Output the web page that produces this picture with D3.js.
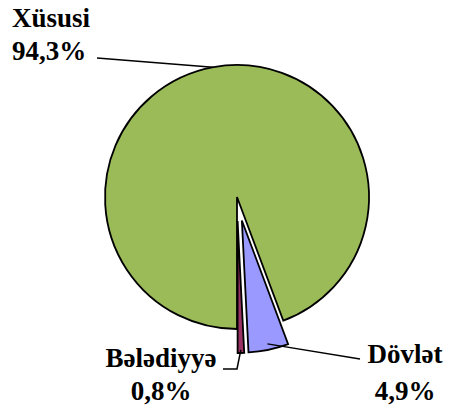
<!DOCTYPE html>
<html lang="az">
<head>
    <meta charset="utf-8" />
    <title>Pie</title>
    <script src="https://d3js.org/d3.v7.min.js"></script>
    <style>
        body { margin: 0; background: #fff; }
    </style>
</head>
<body>
    <div id="chart"></div>
    <script>
        // data
        var categories = ["Xüsusi", "Dövlət", "Bələdiyyə"];
        var values = [94.3, 4.9, 0.8];
        var valueLabels = ["94,3%", "4,9%", "0,8%"];
        var colors = ["#9bbb59", "#9999ff", "#993366"];

        var width = 452, height = 413;
        var cx = 237, cy = 197, R = 132, explode = 24;
        var fontFamily = "'Liberation Serif', 'Times New Roman', Tinos, 'DejaVu Serif', serif";

        var svg = d3.select("#chart").append("svg")
            .attr("width", width)
            .attr("height", height);

        var pie = d3.pie().sort(null).value(function (d) { return d; })
            .startAngle(Math.PI).endAngle(3 * Math.PI);
        var arcs = pie(values);
        var arc = d3.arc().innerRadius(0).outerRadius(R);

        function offset(d, i) {
            if (i === 0) return [0, 0];
            var a = (d.startAngle + d.endAngle) / 2;
            return [explode * Math.sin(a), -explode * Math.cos(a)];
        }
        function pointAt(a, r, off) {
            return [cx + off[0] + r * Math.sin(a), cy + off[1] - r * Math.cos(a)];
        }

        var g = svg.append("g");
        g.selectAll("path")
            .data(arcs)
            .enter()
            .append("path")
            .attr("transform", function (d, i) {
                var o = offset(d, i);
                return "translate(" + (cx + o[0]) + "," + (cy + o[1]) + ")";
            })
            .attr("d", arc)
            .attr("fill", function (d, i) { return colors[i]; })
            .attr("stroke", "#000")
            .attr("stroke-width", 1.8);

        // leader lines
        var line = d3.line();
        var pGreen = pointAt(-10.5 * Math.PI / 180, R, [0, 0]);
        var bMid = (arcs[1].startAngle + arcs[1].endAngle) / 2;
        var pBlue = pointAt(bMid, R - 6, offset(arcs[1], 1));
        var pMid = (arcs[2].startAngle + arcs[2].endAngle) / 2;
        var pPurple = pointAt(pMid, R - 3, offset(arcs[2], 2));

        var leaders = [
            [[97, 58], pGreen],
            [pBlue, [360, 359]],
            [pPurple, [237, 369], [223, 369]]
        ];
        svg.selectAll(".leader")
            .data(leaders)
            .enter()
            .append("path")
            .attr("class", "leader")
            .attr("d", line)
            .attr("fill", "none")
            .attr("stroke", "#000")
            .attr("stroke-width", 1.5);

        // labels
        var labelPos = [
            { x: 12, y1: 27, y2: 60, anchor: "start" },
            { x: 405, y1: 363, y2: 400, anchor: "middle" },
            { x: 161, y1: 367, y2: 400, anchor: "middle" }
        ];
        var lab = svg.selectAll(".lab")
            .data(categories)
            .enter()
            .append("text")
            .attr("class", "lab")
            .attr("font-family", fontFamily)
            .attr("font-weight", "bold")
            .attr("font-size", 27)
            .attr("fill", "#000")
            .attr("text-anchor", function (d, i) { return labelPos[i].anchor; });
        lab.append("tspan")
            .attr("x", function (d, i) { return labelPos[i].x; })
            .attr("y", function (d, i) { return labelPos[i].y1; })
            .text(function (d) { return d; });
        lab.append("tspan")
            .attr("x", function (d, i) { return labelPos[i].x; })
            .attr("y", function (d, i) { return labelPos[i].y2; })
            .text(function (d, i) { return valueLabels[i]; });
    </script>
</body>
</html>
